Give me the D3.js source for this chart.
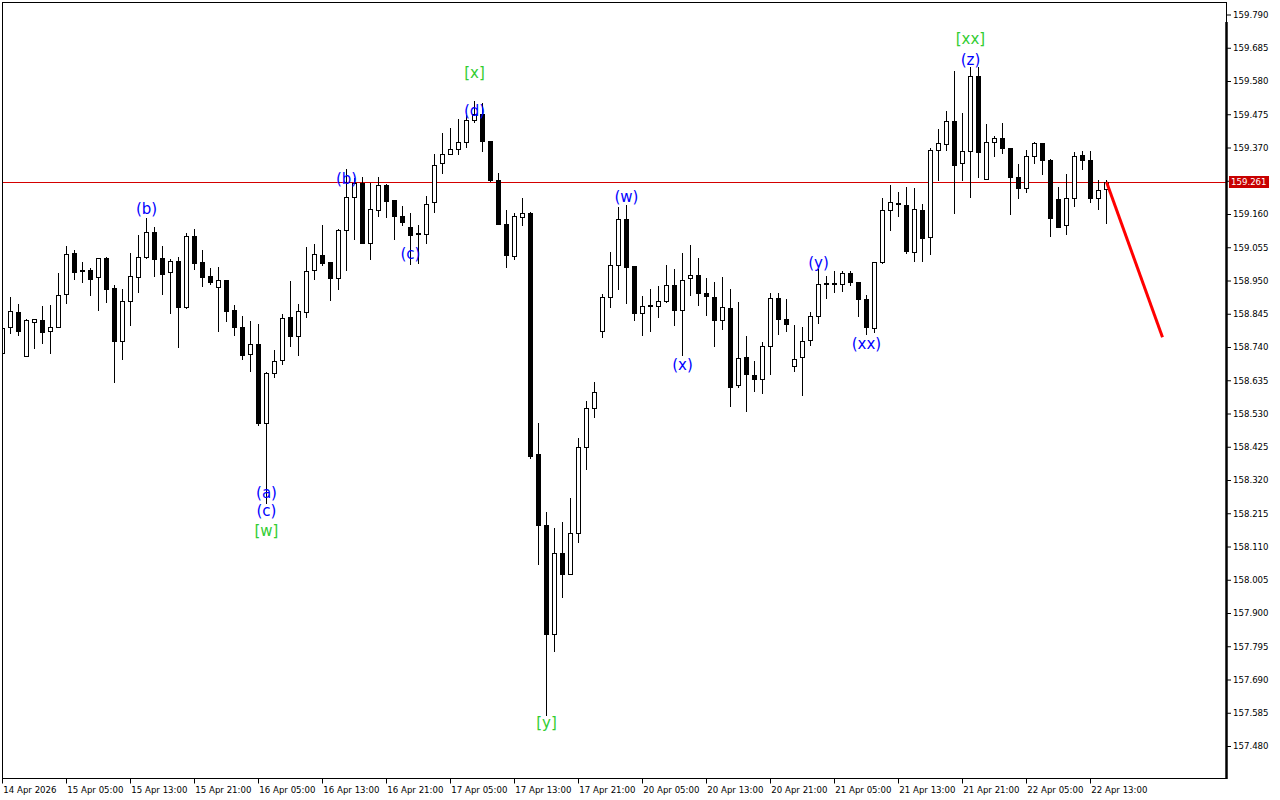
<!DOCTYPE html>
<html><head><meta charset="utf-8">
<script src="https://cdn.jsdelivr.net/npm/d3@7"></script>
<style>body{margin:0;background:#fff;}svg{display:block;}</style>
</head><body><svg id="chart" width="1280" height="800"></svg>
<script>
// ---- data (hourly candles, 14 Apr 21:00 .. 22 Apr 17:00) ----
const opens = [158.720,158.802,158.850,158.711,158.820,158.824,158.790,158.802,158.906,159.036,
158.983,158.984,158.960,159.021,158.926,158.760,158.884,158.962,159.023,159.103,
159.020,158.976,159.013,158.865,159.091,159.008,158.964,158.929,158.952,158.857,
158.803,158.717,158.749,158.499,158.658,158.700,158.835,158.776,158.850,158.982,
159.030,159.008,158.957,159.109,159.213,159.257,159.069,159.172,159.251,159.204,
159.153,159.120,159.099,159.098,159.197,159.320,159.349,159.364,159.386,159.456,
159.475,159.390,159.266,159.127,159.026,159.152,159.162,158.401,158.177,157.835,
158.089,158.024,158.153,158.424,158.546,158.790,158.897,158.998,159.143,158.995,
158.846,158.869,158.869,158.884,158.935,158.856,158.957,158.966,158.910,158.897,
158.824,158.862,158.619,158.707,158.651,158.638,158.742,158.894,158.827,158.679,
158.707,158.761,158.837,158.938,158.941,158.938,158.973,158.944,158.891,158.799,
159.007,159.172,159.195,159.187,159.039,159.172,159.086,159.361,159.380,159.453,
159.320,159.358,159.595,159.270,159.386,159.399,159.367,159.276,159.241,159.342,
159.383,159.330,159.206,159.124,159.210,159.345,159.330,159.209,159.238];
const highs = [158.819,158.898,158.876,158.827,158.827,158.869,158.873,158.974,159.058,159.046,
159.007,158.990,159.020,159.023,158.936,158.923,159.037,159.093,159.146,159.119,
159.058,159.017,159.023,159.101,159.112,159.045,158.989,158.992,158.952,158.872,
158.838,158.821,158.813,158.661,158.730,158.843,158.948,158.876,159.056,159.065,
159.125,159.010,159.112,159.301,159.273,159.276,159.257,159.276,159.254,159.204,
159.184,159.162,159.124,159.216,159.349,159.415,159.431,159.459,159.472,159.516,
159.510,159.390,159.288,159.172,159.162,159.211,159.166,158.499,158.219,158.167,
158.187,158.263,158.453,158.571,158.630,158.907,159.040,159.181,159.187,158.995,
158.900,158.922,158.932,158.998,158.985,159.036,159.061,159.020,158.957,158.944,
158.960,158.922,158.881,158.774,158.695,158.755,158.910,158.910,158.891,158.810,
158.802,158.850,158.985,158.963,158.979,158.979,158.979,158.944,158.903,159.007,
159.210,159.251,159.229,159.245,159.241,159.192,159.367,159.429,159.485,159.611,
159.478,159.623,159.623,159.443,159.406,159.446,159.367,159.317,159.361,159.387,
159.383,159.333,159.244,159.285,159.355,159.358,159.358,159.266,159.266];
const lows = [158.712,158.785,158.778,158.710,158.736,158.754,158.722,158.802,158.880,158.954,
158.946,158.905,158.858,158.881,158.630,158.703,158.810,158.915,159.020,158.964,
158.908,158.848,158.739,158.862,158.985,158.934,158.940,158.791,158.823,158.779,
158.703,158.665,158.495,158.246,158.644,158.685,158.742,158.714,158.836,158.956,
158.998,158.888,158.924,158.982,159.082,159.069,159.019,159.155,159.150,159.082,
159.126,159.003,159.006,159.069,159.165,159.289,159.349,159.349,159.371,159.450,
159.358,159.263,159.127,158.994,159.017,159.125,158.391,158.056,157.579,157.781,
157.950,158.024,158.124,158.354,158.520,158.771,158.865,158.922,158.878,158.824,
158.777,158.790,158.834,158.881,158.809,158.714,158.903,158.872,158.842,158.742,
158.796,158.553,158.615,158.537,158.602,158.594,158.654,158.780,158.789,158.665,
158.587,158.745,158.815,158.894,158.913,158.916,158.935,158.837,158.780,158.786,
159.004,159.109,159.155,159.036,159.011,159.011,159.035,159.268,159.361,159.164,
159.268,159.215,159.278,159.270,159.344,159.352,159.159,159.211,159.230,159.320,
159.285,159.090,159.118,159.096,159.186,159.301,159.199,159.177,159.133];
const closes = [158.799,158.853,158.790,158.824,158.827,158.788,158.802,158.903,159.033,158.978,
158.980,158.956,159.020,158.924,158.760,158.884,158.963,159.023,159.103,159.019,
158.972,159.013,158.867,159.091,159.006,158.962,158.946,158.951,158.855,158.802,
158.716,158.749,158.501,158.658,158.697,158.832,158.776,158.853,158.980,159.033,
159.006,158.957,159.109,159.213,159.257,159.069,159.175,159.251,159.202,159.155,
159.136,159.095,159.096,159.191,159.314,159.349,159.364,159.386,159.456,159.475,
159.390,159.266,159.127,159.029,159.153,159.162,158.395,158.177,157.835,158.089,
158.024,158.153,158.424,158.548,158.597,158.897,158.998,159.143,158.992,158.846,
158.869,158.872,158.884,158.935,158.856,158.951,158.966,158.910,158.900,158.824,
158.865,158.615,158.704,158.654,158.638,158.742,158.894,158.827,158.812,158.701,
158.758,158.837,158.938,158.941,158.938,158.973,158.944,158.891,158.802,159.007,
159.172,159.197,159.194,159.042,159.175,159.083,159.361,159.383,159.453,159.316,
159.358,159.595,159.357,159.386,159.399,159.367,159.278,159.241,159.342,159.383,
159.330,159.146,159.118,159.210,159.344,159.330,159.211,159.235,159.261];

const priceTicks = [159.790,159.685,159.580,159.475,159.370,159.265,159.160,159.055,158.950,158.845,158.740,
158.635,158.530,158.425,158.320,158.215,158.110,158.005,157.900,157.795,157.690,157.585,157.480];
const timeLabels = ["14 Apr 2026","15 Apr 05:00","15 Apr 13:00","15 Apr 21:00","16 Apr 05:00","16 Apr 13:00",
"16 Apr 21:00","17 Apr 05:00","17 Apr 13:00","17 Apr 21:00","20 Apr 05:00","20 Apr 13:00","20 Apr 21:00",
"21 Apr 05:00","21 Apr 13:00","21 Apr 21:00","22 Apr 05:00","22 Apr 13:00"];
const timeIdx = [0,8,16,24,32,40,48,56,64,72,80,88,96,104,112,120,128,136];

const bidPrice = 159.261;
const forecastIdx = [138,145];
const forecastPrice = [159.261,158.771];

const waveText  = ["(b)","(a)","(c)","[w]","(b)","(c)","(d)","[x]","[y]","(w)","(x)","(y)","(xx)","[xx]","(z)"];
const waveIdx   = [18,33,33,33,43,51,59,59,68,78,85,102,108,121,121];
const wavePrice = [159.176,158.279,158.222,158.159,159.271,159.034,159.488,159.608,157.553,159.214,158.683,159.008,158.750,159.713,159.649];
const waveGreen = [0,0,0,1,0,0,0,1,1,0,0,0,0,1,0];

// ---- drawing ----
const svg = d3.select("#chart");
const W = 1280, H = 800;
const plotL = 2, plotR = 1227, plotT = 2, plotB = 779;
const x = d3.scaleLinear().domain([0,153]).range([2,1226]);
const y = d3.scaleLinear().domain([157.480,159.790]).range([746,14.5]);

svg.append("rect").attr("width",W).attr("height",H).attr("fill","#fff");
svg.append("defs").append("clipPath").attr("id","clip")
  .append("rect").attr("x",plotL+1).attr("y",plotT+1).attr("width",plotR-plotL-2).attr("height",plotB-plotT-1);

const g = svg.append("g").attr("clip-path","url(#clip)");

// bid line
g.append("line").attr("x1",plotL).attr("x2",plotR)
  .attr("y1",Math.round(y(bidPrice))+0.5).attr("y2",Math.round(y(bidPrice))+0.5)
  .attr("stroke","#d40000").attr("stroke-width",1);

const data = opens.map((o,i)=>({i,o,h:highs[i],l:lows[i],c:closes[i]}));
const cg = g.append("g");
data.forEach(d=>{
  const xc = Math.round(x(d.i))+0.5;
  const yh = Math.round(y(d.h)), yl = Math.round(y(d.l));
  cg.append("line").attr("x1",xc).attr("x2",xc).attr("y1",yh).attr("y2",yl+1)
    .attr("stroke","#000").attr("stroke-width",1);
  const yt = Math.round(y(Math.max(d.o,d.c))), yb = Math.round(y(Math.min(d.o,d.c)));
  if (d.c >= d.o) {
    cg.append("rect").attr("x",xc-2).attr("y",yt+0.5).attr("width",4).attr("height",Math.max(yb-yt,1))
      .attr("fill","#fff").attr("stroke","#000").attr("stroke-width",1);
  } else {
    cg.append("rect").attr("x",xc-2.5).attr("y",yt).attr("width",5).attr("height",Math.max(yb-yt+1,2))
      .attr("fill","#000");
  }
});

// forecast line
g.append("line").attr("x1",x(forecastIdx[0])+0.5).attr("y1",y(forecastPrice[0]))
  .attr("x2",x(forecastIdx[1])+0.5).attr("y2",y(forecastPrice[1]))
  .attr("stroke","#ff0000").attr("stroke-width",3);

// wave labels
svg.append("g").selectAll("text").data(waveText).join("text")
  .attr("x",(d,i)=>x(waveIdx[i])+0.5)
  .attr("y",(d,i)=>y(wavePrice[i]))
  .attr("dy","0.36em")
  .attr("text-anchor","middle")
  .attr("font-family","'DejaVu Sans', sans-serif")
  .attr("font-size",15)
  .attr("fill",(d,i)=>waveGreen[i]?"#32cd32":"#0000ff")
  .text(d=>d);

// frame
svg.append("rect").attr("x",plotL+0.5).attr("y",plotT+0.5).attr("width",plotR-plotL-1).attr("height",plotB-plotT-1)
  .attr("fill","none").attr("stroke","#000").attr("stroke-width",1);
svg.append("line").attr("x1",plotR-0.5).attr("x2",plotR-0.5).attr("y1",plotT+20).attr("y2",plotB)
  .attr("stroke","#000").attr("stroke-width",2.5);

const axisFont = "'DejaVu Sans', sans-serif";
const axisSize = 8.6;
// right axis
const ya = svg.append("g").attr("transform",`translate(${plotR},0)`)
  .call(d3.axisRight(y).tickValues(priceTicks).tickFormat(d3.format(".3f")).tickSize(4).tickPadding(2).tickSizeOuter(0));
ya.select(".domain").remove();
ya.selectAll("text").attr("font-family",axisFont).attr("font-size",axisSize).attr("fill","#000");
ya.selectAll("line").attr("stroke","#000");

// bottom axis
const xa = svg.append("g").attr("transform",`translate(0,${plotB-0.5})`)
  .call(d3.axisBottom(x).tickValues(timeIdx).tickFormat((d,i)=>timeLabels[i]).tickSize(5).tickPadding(3).tickSizeOuter(0));
xa.select(".domain").remove();
xa.selectAll("text").attr("text-anchor","start").attr("dx","0.1em")
  .attr("font-family",axisFont).attr("font-size",axisSize).attr("fill","#000");
xa.selectAll("line").attr("stroke","#000");

// bid price box
const by = Math.round(y(bidPrice));
svg.append("rect").attr("x",plotR+2).attr("y",by-6).attr("width",40).attr("height",12).attr("fill","#c80000");
svg.append("text").attr("x",plotR+4).attr("y",by).attr("dy","0.36em")
  .attr("font-family",axisFont).attr("font-size",axisSize).attr("fill","#fff").text(d3.format(".3f")(bidPrice));
</script></body></html>
